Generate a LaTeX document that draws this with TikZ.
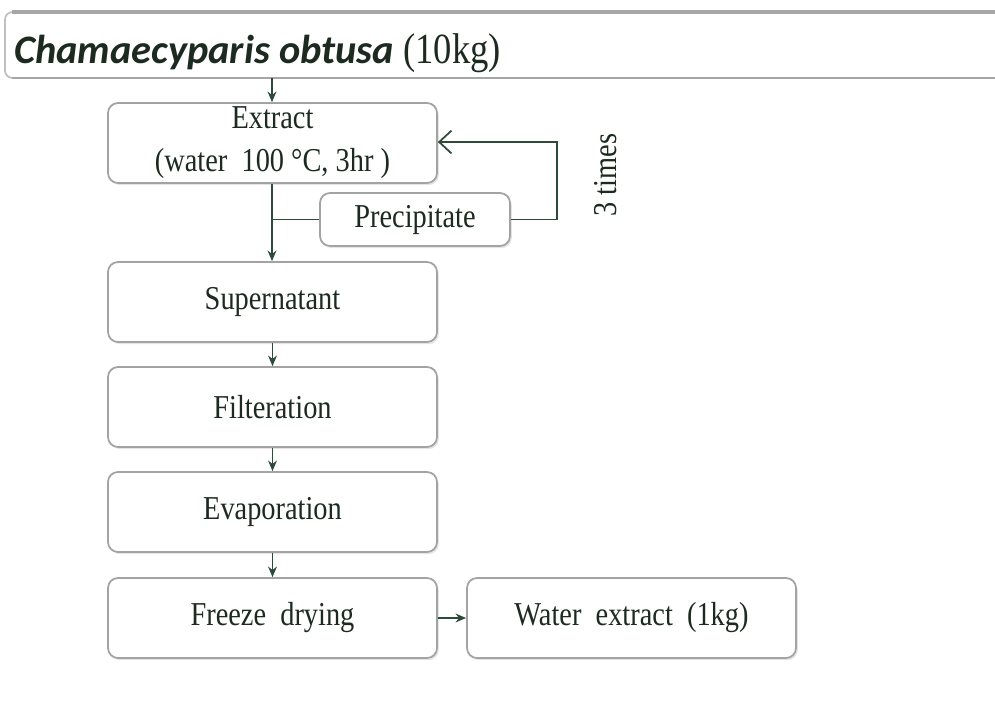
\documentclass[tikz,border=0pt]{standalone}
\usepackage{fontspec}
\setmainfont{Liberation Serif}
\newfontfamily\cond[FakeStretch=0.85]{Liberation Serif}
\newfontfamily\titlefont{Carlito}
\usetikzlibrary{arrows.meta,shadows}
\definecolor{txt}{HTML}{1C2A20}
\definecolor{conn}{HTML}{2E4A3A}
\definecolor{bord}{HTML}{A3A3A3}
\tikzset{
  x=0.02cm, y=-0.02cm,
  stepbox/.style={draw=bord, line width=1pt, rounded corners=0.2cm, fill=white,
    minimum width=329*0.02cm, minimum height=80*0.02cm, inner sep=0pt,
    font=\cond\fontsize{19}{22}\selectfont, text=txt, align=center,
    drop shadow={opacity=0.2, shadow xshift=1pt, shadow yshift=-1.2pt}},
  smallbox/.style={stepbox, minimum width=190*0.02cm, minimum height=53*0.02cm},
  conline/.style={draw=conn, line width=1.1pt},
  downarrow/.style={conline, -{Stealth[length=6pt,width=5pt]}},
  looparrow/.style={conline, -{Straight Barb[length=7pt,width=13pt,line width=1pt]}}
}
\begin{document}
\begin{tikzpicture}
\useasboundingbox (0,0) rectangle (995,724);
\fill[white] (0,0) rectangle (995,724);
\begin{scope}
\clip (0,0) rectangle (995,724);
\draw[gray!50, line width=1pt, rounded corners=0.15cm] (1010,12) -- (5,12) -- (5,78) -- (1010,78);
\draw[gray!70, line width=1.8pt] (12,12) -- (1010,12);
\draw[gray!70, line width=1.4pt] (12,78) -- (1010,78);
\end{scope}
\coordinate (titlebar) at (500,45);
\node[anchor=base west, inner sep=0pt, text=txt] (title) at (14,63)
  {\titlefont\fontsize{23}{26}\selectfont\bfseries\itshape Chamaecyparis obtusa\ {\cond\mdseries\upshape\fontsize{24.5}{26}\selectfont(10kg)}};
\coordinate (titlebot) at (272,78);

\node[stepbox] (extract) at (272.5,143) {Extract\\[2.5pt](water\ \ 100 °C,\ 3hr )};
\node[smallbox] (precip) at (415,219.5) {Precipitate};
\node[stepbox] (super) at (272.5,302) {Supernatant};
\node[stepbox] (filter) at (272.5,407) {Filteration};
\node[stepbox] (evap) at (272.5,512) {Evaporation};
\node[stepbox] (freeze) at (272.5,618) {Freeze\ \ drying};
\node[stepbox] (water) at (631.5,618) {Water\ \ extract\ \ (1kg)};

\node[rotate=90, text=txt, font=\cond\fontsize{19}{22}\selectfont, inner sep=0pt] (times) at (606,175) {3 times};

\draw[downarrow] (titlebot) -- (extract.north -| titlebot);
\draw[downarrow] (extract.south -| titlebot) -- (super.north -| titlebot);
\coordinate (junction) at (precip.west -| titlebot);
\draw[conline] (junction) -- (precip.west);
\coordinate (loopA) at (557,219.5);
\coordinate (loopB) at (557,142);
\draw[looparrow] (precip.east) -- (loopA) -- (loopB) -- (loopB -| extract.east);
\draw[downarrow] (super.south) -- (filter.north);
\draw[downarrow] (filter.south) -- (evap.north);
\draw[downarrow] (evap.south) -- (freeze.north);
\draw[downarrow] (freeze.east) -- (water.west);
\end{tikzpicture}
\end{document}
